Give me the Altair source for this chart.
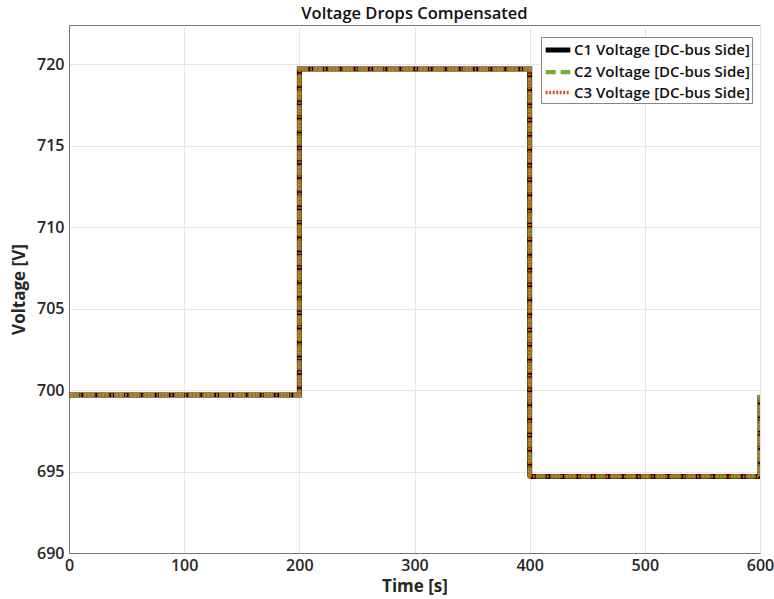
import altair as alt
import pandas as pd

times = [0, 200, 200, 400, 400, 600, 600]
c1 = [699.7, 699.7, 719.7, 719.7, 694.7, 694.7, 699.7]
c2 = [699.7, 699.7, 719.7, 719.7, 694.7, 694.7, 699.7]
c3 = [699.7, 699.7, 719.7, 719.7, 694.7, 694.7, 699.7]
series = ["C1 Voltage [DC-bus Side]", "C2 Voltage [DC-bus Side]", "C3 Voltage [DC-bus Side]"]

rows = []
for name, vals in zip(series, [c1, c2, c3]):
    for i, (t, v) in enumerate(zip(times, vals)):
        rows.append({"t": t, "v": v, "series": name, "idx": i})
df = pd.DataFrame(rows)

FONT = "Open Sans"

chart = alt.Chart(df).mark_line(clip=True).encode(
    x=alt.X("t:Q", title="Time [s]", scale=alt.Scale(domain=[0, 600], nice=False),
            axis=alt.Axis(values=[0, 100, 200, 300, 400, 500, 600], labelFlush=False,
                          labelPadding=4, titlePadding=5)),
    y=alt.Y("v:Q", title="Voltage [V]", scale=alt.Scale(domain=[690, 722.4], nice=False, zero=False),
            axis=alt.Axis(values=[690, 695, 700, 705, 710, 715, 720], labelPadding=5, titlePadding=8)),
    color=alt.Color("series:N", scale=alt.Scale(domain=series, range=["#000000", "#77AC30", "#D95319"]),
                    legend=alt.Legend(title=None, orient="none", legendX=472, legendY=12,
                                      symbolType="M-1.45,0H1.45", symbolSize=289, symbolOffset=4,
                                      labelFontSize=15,
                                      labelFont=FONT, labelFontWeight=600, labelColor="#111",
                                      strokeColor="#888", fillColor="white", padding=2,
                                      rowPadding=1, labelOffset=5, labelLimit=300)),
    strokeDash=alt.StrokeDash("series:N", scale=alt.Scale(domain=series, range=[[1, 0], [10, 5], [2, 1.5]]), legend=None),
    strokeWidth=alt.StrokeWidth("series:N", scale=alt.Scale(domain=series, range=[5, 3.5, 1.2]), legend=None),
    detail="series:N",
    order="idx:Q",
).properties(
    width=691, height=528,
    title=alt.TitleParams("Voltage Drops Compensated", fontSize=16.5, font=FONT, fontWeight=600, color="#111", offset=3),
    autosize=alt.AutoSizeParams(type="none"),
    padding={"left": 69, "top": 25, "right": 14, "bottom": 46},
).configure_view(
    stroke="#777", strokeWidth=1
).configure_axis(
    grid=True, gridColor="#e6e6e6", domainColor="#777", tickColor="#777", tickSize=0,
    labelFont=FONT, labelFontSize=16, labelFontWeight=600, labelColor="#262626",
    titleFont=FONT, titleFontSize=17, titleFontWeight="bold", titleColor="#262626",
)

chart.save("out.html", embed_options={"renderer": "svg", "actions": False})
